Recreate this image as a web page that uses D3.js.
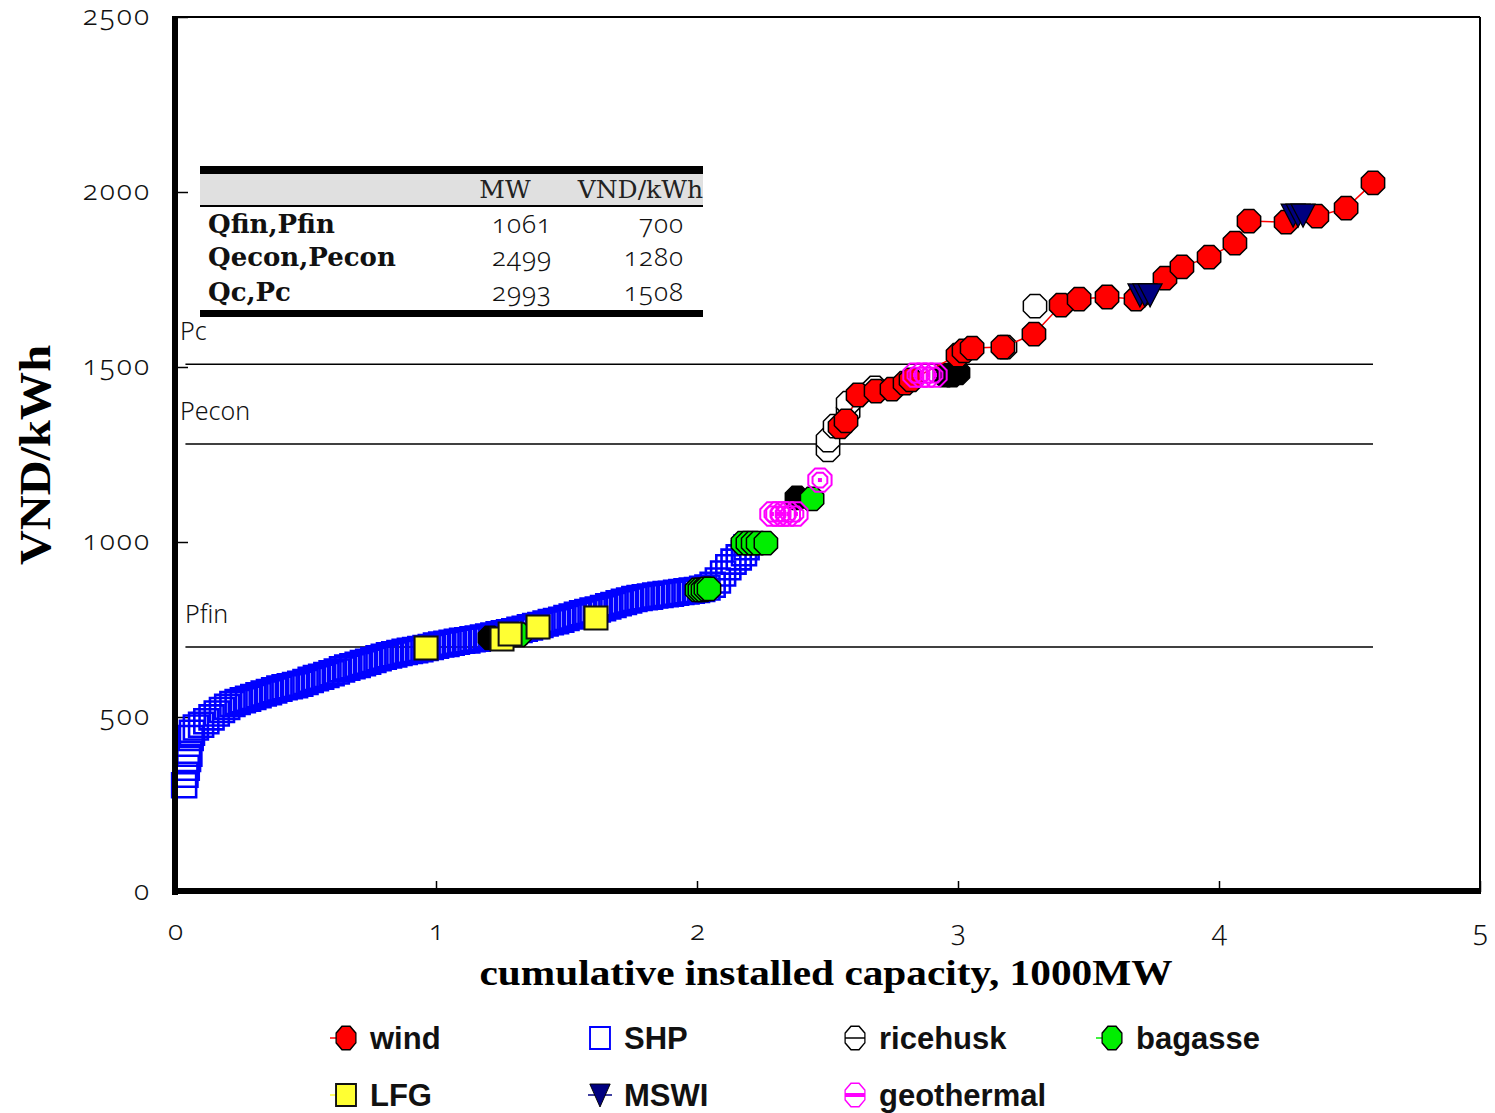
<!DOCTYPE html>
<html lang="en">
<head>
<meta charset="utf-8">
<title>Renewable supply curve</title>
<script src="https://cdn.jsdelivr.net/npm/d3@7"></script>
<style>
  body { margin: 0; background: #fff; }
  svg { display: block; }
  .num { font-family: "Noto Sans", sans-serif; font-feature-settings: "onum"; font-weight: 300; fill: #111; }
  .lab { font-family: "Noto Sans", sans-serif; font-weight: 300; fill: #111; }
</style>
</head>
<body>
<svg width="1495" height="1113"></svg>
<script>
// cumulative capacity (1000MW), price (VND/kWh)
const shp = [[0.035,305],[0.04,335],[0.045,355],[0.05,380],[0.055,395],[0.06,440],[0.065,455],
  [0.08,470],[0.10,478],[0.12,488],[0.14,499],[0.16,510],[0.18,520],[0.20,529],[0.22,537],[0.24,543],
  [0.26,548],[0.28,552],[0.30,557],[0.32,562],[0.34,567],[0.36,571],[0.38,576],[0.40,581],[0.42,585],
  [0.44,588],[0.46,591],[0.48,595],[0.50,600],[0.52,606],[0.54,611],[0.56,615],[0.58,620],[0.60,625],
  [0.62,630],[0.64,636],[0.66,641],[0.68,645],[0.70,649],[0.72,654],[0.74,658],[0.76,663],[0.78,668],
  [0.80,672],[0.82,676],[0.84,679],[0.86,683],[0.88,686],[0.90,689],[0.92,691],[0.94,694],[0.96,697],
  [0.98,700],[1.00,704],[1.02,707],[1.04,709],[1.06,712],[1.08,715],[1.10,718],[1.12,719],[1.14,722],
  [1.16,724],[1.18,727],[1.20,730],[1.22,733],[1.24,736],[1.26,739],[1.28,742],[1.30,745],[1.32,749],
  [1.34,752],[1.36,756],[1.38,760],[1.40,763],[1.42,767],[1.44,771],[1.46,774],[1.48,778],[1.50,783],
  [1.52,787],[1.54,792],[1.56,796],[1.58,800],[1.60,804],[1.62,807],[1.64,811],[1.66,816],[1.68,820],
  [1.70,825],[1.72,829],[1.74,833],[1.76,837],[1.78,840],[1.80,842],[1.82,844],[1.84,847],[1.86,849],
  [1.88,851],[1.90,852],[1.92,855],[1.94,857],[1.96,859],[1.98,861],[2.00,863],[2.02,866],[2.04,870],
  [2.06,878],[2.08,890],[2.10,910],[2.12,928],[2.14,944],[2.16,956],[2.18,968],[2.19,985]];
const lfg = [[0.962,697],[1.253,723],[1.284,737],[1.391,757],[1.613,783]];
const other = [[1.207,726],[2.383,1126],[2.950,1477],[2.977,1477],[3.0,1483]];
const bagasse = [[1.32,735],[2.0,863],[2.011,863],[2.023,863],[2.034,866],[2.046,866],
  [2.176,997],[2.195,997],[2.215,997],[2.234,997],[2.264,997],[2.441,1123]];
const ricehusk = [[2.502,1263],[2.502,1291],[2.529,1331],[2.579,1371],[2.579,1397],[2.682,1440],[3.180,1557],[3.295,1674]];
const wind = [[2.548,1329],[2.571,1346],[2.617,1420],[2.686,1431],[2.747,1437],[2.797,1454],[2.82,1463],
  [3.0,1534],[3.023,1546],[3.054,1554],[3.172,1557],[3.291,1594],[3.395,1677],[3.464,1694],[3.571,1700],
  [3.682,1694],[3.793,1754],[3.858,1786],[3.962,1814],[4.061,1854],[4.115,1917],[4.257,1914],[4.375,1931],
  [4.487,1954],[4.590,2026]];
const geothermal = [[2.287,1080],[2.31,1080],[2.33,1080],[2.35,1080],[2.379,1080],[2.471,1177],
  [2.835,1477],[2.862,1477],[2.885,1477],[2.912,1477]];
const mswi = [[3.697,1706],[3.716,1706],[3.736,1706],[4.284,1934],[4.303,1934],[4.322,1934]];

const refNames = ["Pfin", "Pecon", "Pc"];
const refPrices = [700, 1280, 1508];
const tableRows = ["Qfin,Pfin", "Qecon,Pecon", "Qc,Pc"];
const tableMW = [1061, 2499, 2993];
const tableVND = [700, 1280, 1508];
const xTicks = [0, 1, 2, 3, 4, 5];
const yTicks = [0, 500, 1000, 1500, 2000, 2500];

const svg = d3.select("svg");
const x = d3.scaleLinear().domain([0, 5]).range([175, 1480]);
const y = d3.scaleLinear().domain([0, 2500]).range([892, 17]);

function octagon(r) {
  const pts = d3.range(8).map(i => {
    const a = Math.PI / 8 + i * Math.PI / 4;
    return [r * Math.cos(a), r * Math.sin(a)];
  });
  return "M" + pts.map(p => p[0].toFixed(2) + "," + p[1].toFixed(2)).join("L") + "Z";
}
const oct = octagon(12.6);
const oct2 = octagon(8);
const tri = "M-12,-11L12,-11L0,12Z";

// axes with inward ticks
const yAxis = svg.append("g").attr("transform", "translate(175,0)")
  .call(d3.axisLeft(y).tickValues(yTicks).tickSize(-13).tickPadding(24).tickFormat(d3.format("d")));
const xAxis = svg.append("g").attr("transform", "translate(0,892)")
  .call(d3.axisBottom(x).tickValues(xTicks).tickSize(-11).tickPadding(40).tickFormat(d3.format("d")));
[yAxis, xAxis].forEach(g => {
  g.select(".domain").remove();
  g.selectAll("line").attr("stroke", "#000").attr("stroke-width", 1.5);
  g.selectAll("text").attr("class", "num").style("font-size", "28px").attr("fill", "#111");
});
yAxis.selectAll("text").style("letter-spacing", "2px").attr("dy", "0.25em");
xAxis.selectAll("text").attr("dy", "0.3em");

// reference lines
const ref = svg.append("g");
refPrices.forEach((p, i) => {
  ref.append("line").attr("x1", x(0.04)).attr("x2", x(4.59))
    .attr("y1", y(p)).attr("y2", y(p)).attr("stroke", "#000").attr("stroke-width", 1.5);
  ref.append("text").attr("class", "lab").attr("x", i === 0 ? 185 : 180).attr("y", y(p) - 24)
    .style("font-size", "25px").text(refNames[i]);
});

// table
const tb = svg.append("g");
tb.append("rect").attr("x", 200).attr("y", 166).attr("width", 503).attr("height", 8).attr("fill", "#000");
tb.append("rect").attr("x", 200).attr("y", 174).attr("width", 503).attr("height", 31).attr("fill", "#e0e0e0");
tb.append("rect").attr("x", 200).attr("y", 205).attr("width", 503).attr("height", 2).attr("fill", "#000");
tb.append("rect").attr("x", 200).attr("y", 310).attr("width", 503).attr("height", 7).attr("fill", "#000");
tb.append("text").attr("x", 505).attr("y", 198).attr("text-anchor", "middle")
  .style("font-family", "DejaVu Serif").style("font-size", "25px").attr("fill", "#222").text("MW");
tb.append("text").attr("x", 703).attr("y", 198).attr("text-anchor", "end")
  .style("font-family", "DejaVu Serif").style("font-size", "25px").attr("fill", "#222").text("VND/kWh");
const rowY = [233, 266, 301];
tableRows.forEach((r, i) => {
  tb.append("text").attr("x", 208).attr("y", rowY[i])
    .style("font-family", "DejaVu Serif").style("font-weight", "bold").style("font-size", "26px")
    .attr("fill", "#111").text(r);
  tb.append("text").attr("class", "num").attr("x", 552).attr("y", rowY[i]).attr("text-anchor", "end")
    .style("font-size", "26px").style("letter-spacing", "1px").text(tableMW[i]);
  tb.append("text").attr("class", "num").attr("x", 684).attr("y", rowY[i]).attr("text-anchor", "end")
    .style("font-size", "26px").style("letter-spacing", "1px").text(tableVND[i]);
});

// series
const plot = svg.append("g");
function pts(data, path, fill, stroke, sw) {
  plot.append("g").selectAll("path").data(data).join("path")
    .attr("transform", d => `translate(${x(d[0])},${y(d[1])})`)
    .attr("d", path).attr("fill", fill).attr("stroke", stroke).attr("stroke-width", sw);
}
const sq = s => `M${-s / 2},${-s / 2}h${s}v${s}h${-s}Z`;

pts(shp, sq(24), "none", "#0000ff", 2.6);
pts(other, oct, "#000", "#000", 1.5);
pts(bagasse, oct, "#00ee00", "#000", 1.5);
pts(lfg, sq(23), "#ffff33", "#111", 2);
pts(ricehusk, oct, "#fff", "#000", 1.5);
plot.append("path").datum(wind)
  .attr("d", d3.line().x(d => x(d[0])).y(d => y(d[1])))
  .attr("fill", "none").attr("stroke", "#ff0000").attr("stroke-width", 1.5);
pts(wind, oct, "#ff0000", "#000", 1.5);
const geo = plot.append("g").selectAll("g").data(geothermal).join("g")
  .attr("transform", d => `translate(${x(d[0])},${y(d[1])})`);
geo.append("path").attr("d", oct).attr("fill", "none").attr("stroke", "#ff00ff").attr("stroke-width", 2);
geo.append("path").attr("d", oct2).attr("fill", "none").attr("stroke", "#ff00ff").attr("stroke-width", 2);
geo.append("rect").attr("x", -2).attr("y", -2).attr("width", 4).attr("height", 4).attr("fill", "#ff00ff");
pts(mswi, tri, "#000080", "#000", 1.2);

// frame
svg.append("line").attr("x1", 175).attr("x2", 1480).attr("y1", 17).attr("y2", 17).attr("stroke", "#000").attr("stroke-width", 2);
svg.append("line").attr("x1", 1480).attr("x2", 1480).attr("y1", 17).attr("y2", 892).attr("stroke", "#000").attr("stroke-width", 2);
svg.append("line").attr("x1", 175).attr("x2", 175).attr("y1", 16).attr("y2", 895).attr("stroke", "#000").attr("stroke-width", 6);
svg.append("line").attr("x1", 172).attr("x2", 1481).attr("y1", 891).attr("y2", 891).attr("stroke", "#000").attr("stroke-width", 6);

// axis titles
svg.append("text").attr("transform", "translate(50,455) rotate(-90)").attr("text-anchor", "middle")
  .attr("textLength", 220).attr("lengthAdjust", "spacingAndGlyphs")
  .style("font-family", "Liberation Serif").style("font-weight", "bold").style("font-size", "44px")
  .text("VND/kWh");
svg.append("text").attr("x", 826).attr("y", 985).attr("text-anchor", "middle")
  .attr("textLength", 693).attr("lengthAdjust", "spacingAndGlyphs")
  .style("font-family", "Liberation Serif").style("font-weight", "bold").style("font-size", "36px")
  .text("cumulative installed capacity, 1000MW");

// legend
const legendNames = ["wind", "SHP", "ricehusk", "bagasse", "LFG", "MSWI", "geothermal"];
const legendX = [346, 600, 855, 1112, 346, 600, 855];
const legendY = [1038, 1038, 1038, 1038, 1095, 1095, 1095];
const lg = svg.append("g");
legendNames.forEach((n, i) => {
  const g = lg.append("g").attr("transform", `translate(${legendX[i]},${legendY[i]})`);
  if (n === "wind" || n === "bagasse") {
    g.append("line").attr("x1", -16).attr("x2", 0).attr("stroke", n === "wind" ? "#ff0000" : "#00ee00").attr("stroke-width", 1.5);
    g.append("path").attr("d", oct).attr("transform", "scale(0.85,1)")
      .attr("fill", n === "wind" ? "#ff0000" : "#00ee00").attr("stroke", "#000").attr("stroke-width", 1.5);
  } else if (n === "SHP") {
    g.append("path").attr("d", sq(21)).attr("transform", "scale(0.95,1.05)").attr("fill", "#fff").attr("stroke", "#0000ff").attr("stroke-width", 2);
  } else if (n === "LFG") {
    g.append("line").attr("x1", -16).attr("x2", 0).attr("stroke", "#ffff33").attr("stroke-width", 1.5);
    g.append("path").attr("d", sq(21)).attr("transform", "scale(0.95,1.05)").attr("fill", "#ffff33").attr("stroke", "#111").attr("stroke-width", 2);
  } else if (n === "MSWI") {
    g.append("line").attr("x1", -12).attr("x2", 12).attr("stroke", "#000080").attr("stroke-width", 1.5);
    g.append("path").attr("d", tri).attr("transform", "scale(0.85,1)").attr("fill", "#000080").attr("stroke", "#000").attr("stroke-width", 1);
  } else {
    const c = n === "ricehusk" ? "#000" : "#ff00ff";
    g.append("path").attr("d", oct).attr("transform", "scale(0.85,1)").attr("fill", "#fff").attr("stroke", c).attr("stroke-width", 1.5);
    g.append("line").attr("x1", -10).attr("x2", 10).attr("stroke", c).attr("stroke-width", n === "ricehusk" ? 1.5 : 4);
  }
  lg.append("text").attr("x", legendX[i] + 24).attr("y", legendY[i] + 11)
    .style("font-family", "Liberation Sans").style("font-weight", "bold").style("font-size", "31px")
    .attr("fill", "#111").text(n);
});
</script>
</body>
</html>
